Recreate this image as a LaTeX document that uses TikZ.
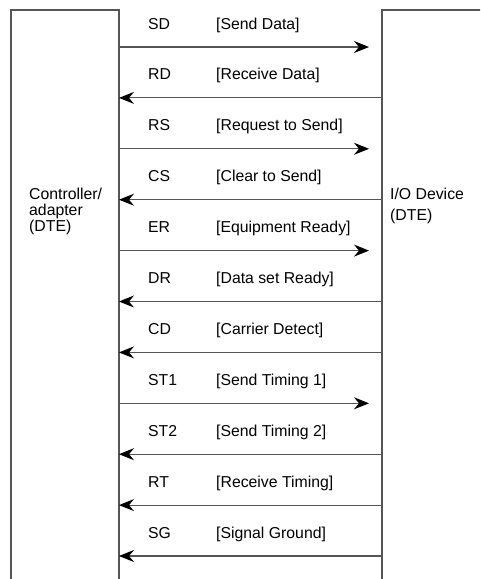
\documentclass[tikz,border=0pt]{standalone}
\usepackage{fontspec}
\setmainfont{Liberation Sans}
\usetikzlibrary{arrows.meta,positioning}
\definecolor{linegray}{HTML}{555555}
\tikzset{
  ar/.style={-{Stealth[length=15pt,width=12pt,inset=5pt,color=black]},line width=1.1pt,linegray},
  lbl/.style={font=\fontsize{15.8}{16}\selectfont,anchor=base west,inner sep=0pt},
  frame/.style={line width=1.6pt,linegray}
}

\begin{document}
\begin{tikzpicture}[x=1pt,y=-1pt]
\useasboundingbox (0,0) rectangle (480,579);
\clip (0,0) rectangle (480,579);
% the two stations, open at the bottom
\draw[frame] (11,590) -- (11,10) -- (119,10) -- (119,590);
\draw[frame] (382,590) -- (382,10) -- (485,10);
\node[lbl,align=left] (ctrl) at (29,231) {Controller/\\adapter\\(DTE)};
\node[lbl,align=left,font=\fontsize{15.8}{21}\selectfont] (iodev) at (390,220) {I/O Device\\(DTE)};
% signal lines, 1 = to the device, 0 = to the controller
\foreach \sig/\desc/\dir [count=\i from 0] in {SD/Send Data/1, RD/Receive Data/0, RS/Request to Send/1, CS/Clear to Send/0, ER/Equipment Ready/1, DR/Data set Ready/0, CD/Carrier Detect/0, ST1/Send Timing 1/1, ST2/Send Timing 2/0, RT/Receive Timing/0, SG/Signal Ground/0}{
  \coordinate (a\i) at (119,47+50.9*\i);
  \coordinate (b\i) at (382,47+50.9*\i);
  \node[lbl] (s\i) at (148,29+50.9*\i) {\sig};
  \node[lbl] (d\i) at (216,29+50.9*\i) {[\desc]};
  \ifnum\dir=1 \draw[ar] (a\i) -- ([xshift=-13pt]b\i); \else \draw[ar] (b\i) -- (a\i); \fi
}
\end{tikzpicture}
\end{document}
